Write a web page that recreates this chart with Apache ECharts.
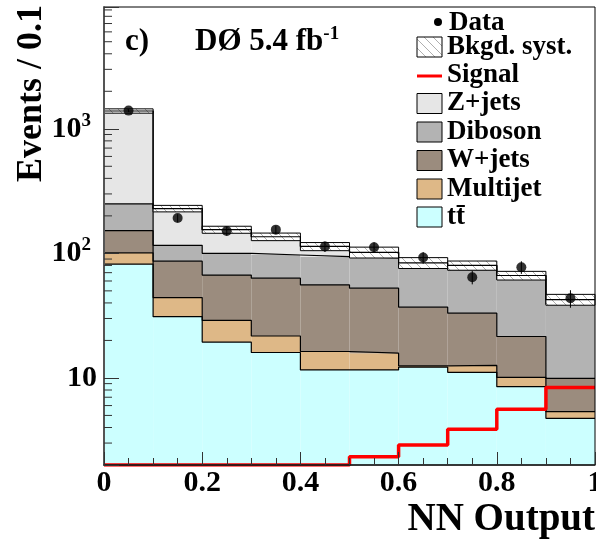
<!DOCTYPE html>
<html>
<head>
<meta charset="utf-8">
<script src="https://cdn.jsdelivr.net/npm/echarts@6/dist/echarts.min.js"></script>
<style>
html, body { margin: 0; padding: 0; background: #fff; }
#chart { width: 596px; height: 541px; }
</style>
</head>
<body>
<div id="chart"></div>
<script>
// NN output bins (left edges and centres)
var binLeft = [0, 0.1, 0.2, 0.3, 0.4, 0.5, 0.6, 0.7, 0.8, 0.9];
var binCenter = [0.05, 0.15, 0.25, 0.35, 0.45, 0.55, 0.65, 0.75, 0.85, 0.95];
// background contributions per bin, stacked bottom to top
var ttbar = [81.9, 31.0, 19.4, 16.0, 11.6, 11.6, 12.2, 11.1, 8.5, 4.74];
var multijet = [19.1, 13.2, 9.6, 5.7, 4.7, 4.2, 0.3, 1.5, 1.6, 0.62];
var wjets = [51, 42.3, 38, 41.5, 39.5, 36.7, 24.5, 20.5, 11.4, 4.54];
var diboson = [98, 29.5, 33, 33.8, 38.2, 39.5, 41, 40.9, 40.5, 29.4];
var zjets = [1140, 113, 55, 39, 19.6, 10, 6, 6, 4.4, 3.3];
// relative background systematic per bin
var systFrac = [0.04, 0.06, 0.065, 0.07, 0.075, 0.1, 0.1, 0.085, 0.08, 0.1];
var signal = [2, 2, 2, 2, 2, 2.33, 2.9, 3.87, 5.61, 8.36];
var dataObs = [1400, 192, 151, 155, 113.6, 112, 92.5, 64.4, 77.4, 43.6];
var dataErr = [37, 14, 12, 12, 11, 11, 10, 8, 9, 7];

var FONT = '"Liberation Serif", "Times New Roman", serif';
var COLORS = { ttbar: '#ccffff', multijet: '#deb887', wjets: '#9b8c7e', diboson: '#b3b3b3', zjets: '#e6e6e6' };

function stepData(vals) {
    var d = binLeft.map(function (x, i) { return [x, vals[i]]; });
    d.push([1.0, vals[vals.length - 1]]);
    return d;
}

// running sums of the stack
var components = [
    { name: 't\u0074\u0304', vals: ttbar, color: COLORS.ttbar },
    { name: 'Multijet', vals: multijet, color: COLORS.multijet },
    { name: 'W+jets', vals: wjets, color: COLORS.wjets },
    { name: 'Diboson', vals: diboson, color: COLORS.diboson },
    { name: 'Z+jets', vals: zjets, color: COLORS.zjets }
];
var running = binLeft.map(function () { return 0; });
components.forEach(function (c) {
    c.base = running.slice();
    running = running.map(function (r, i) { return r + c.vals[i]; });
    c.top = running.slice();
});
var total = running;

// hatch pattern for the syst. band
var hatch = document.createElement('canvas');
hatch.width = 9; hatch.height = 9;
(function () {
    var c = hatch.getContext('2d');
    c.fillStyle = '#fff';
    c.fillRect(0, 0, 9, 9);
    c.strokeStyle = '#9a9a9a';
    c.lineWidth = 0.8;
    c.beginPath();
    c.moveTo(0, 0); c.lineTo(9, 9);
    c.stroke();
})();
var hatchFill = { image: hatch, repeat: 'repeat' };

function fillSeries(c) {
    return {
        name: c.name, type: 'custom', z: 2,
        data: binLeft.map(function (x, i) { return [x, x + 0.1, c.base[i], c.top[i]]; }),
        encode: { x: [0, 1], y: [3] },
        renderItem: function (params, api) {
            var cs = params.coordSys;
            var a = api.coord([api.value(0), api.value(3)]);
            var b = api.value(2) > 0 ? api.coord([api.value(1), api.value(2)]) : [api.coord([api.value(1), api.value(3)])[0], cs.y + cs.height];
            return {
                type: 'rect',
                shape: { x: a[0], y: a[1], width: b[0] - a[0], height: b[1] - a[1] },
                style: { fill: c.color, stroke: null }
            };
        }
    };
}
function outlineSeries(c) {
    return {
        name: c.name + ' outline', type: 'line', step: 'end', symbol: 'none', z: 3,
        data: stepData(c.top), lineStyle: { color: '#000', width: 1.2 }
    };
}

var series = [];
components.forEach(function (c) { series.push(fillSeries(c)); });
components.forEach(function (c) { series.push(outlineSeries(c)); });
series.push({
    name: 'Bkgd. syst.', type: 'custom', z: 7,
    data: binLeft.map(function (x, i) {
        return [x, x + 0.1, total[i] * (1 - systFrac[i]), total[i] * (1 + systFrac[i])];
    }),
    encode: { x: [0, 1], y: [2, 3] },
    renderItem: function (params, api) {
        var a = api.coord([api.value(0), api.value(3)]);
        var b = api.coord([api.value(1), api.value(2)]);
        return {
            type: 'rect',
            shape: { x: a[0], y: a[1], width: b[0] - a[0], height: b[1] - a[1] },
            style: { fill: hatchFill, stroke: '#000', lineWidth: 1 }
        };
    }
});
series.push({
    name: 'Total', type: 'line', step: 'end', symbol: 'none', z: 8,
    data: stepData(total), lineStyle: { color: '#000', width: 1.2 }
});
series.push({
    name: 'Signal', type: 'line', step: 'end', symbol: 'none', z: 8,
    data: stepData(signal), lineStyle: { color: '#ff0000', width: 3.5 }
});
series.push({
    name: 'Data err', type: 'custom', z: 9,
    data: binCenter.map(function (x, i) { return [x, dataObs[i] - dataErr[i], dataObs[i] + dataErr[i]]; }),
    encode: { x: 0, y: [1, 2] },
    renderItem: function (params, api) {
        var a = api.coord([api.value(0), api.value(1)]);
        var b = api.coord([api.value(0), api.value(2)]);
        return { type: 'line', shape: { x1: a[0], y1: a[1], x2: b[0], y2: b[1] }, style: { stroke: '#000', lineWidth: 1 } };
    }
});
series.push({
    name: 'Data', type: 'scatter', z: 9, symbol: 'circle', symbolSize: 10,
    itemStyle: { color: '#000' },
    data: binCenter.map(function (x, i) { return [x, dataObs[i]]; })
});

var chart = echarts.init(document.getElementById('chart'));
chart.setOption({
    animation: false,
    backgroundColor: '#fff',
    grid: {
        left: 104, right: 1, top: 7, bottom: 76, z: 10,
        show: true, borderColor: '#000', borderWidth: 1, backgroundColor: 'transparent',
        containLabel: false, outerBoundsMode: 'none'
    },
    xAxis: {
        type: 'value', min: 0, max: 1, interval: 0.2, z: 10,
        axisLine: { lineStyle: { color: '#222', width: 1.5 } },
        axisTick: { inside: true, length: 13, lineStyle: { color: '#333', width: 1 } },
        minorTick: { show: true, splitNumber: 4, length: 7, lineStyle: { color: '#333', width: 1 } },
        splitLine: { show: false },
        axisLabel: {
            margin: 3, color: '#000', fontFamily: FONT, fontWeight: 'bold', fontSize: 30,
            showMinLabel: true, showMaxLabel: true, hideOverlap: false,
            formatter: function (v) {
                if (Math.abs(v) < 1e-9) return '0';
                if (Math.abs(v - 1) < 1e-9) return '1';
                return v.toFixed(1);
            }
        }
    },
    yAxis: {
        type: 'log', logBase: 10, min: 2, max: 9500, z: 10,
        axisLine: { show: true, lineStyle: { color: '#555', width: 2 } },
        axisTick: { inside: true, length: 15, lineStyle: { color: '#333', width: 1 } },
        splitLine: { show: false },
        axisLabel: {
            margin: 7, color: '#000', fontFamily: FONT, fontWeight: 'bold', fontSize: 30,
            showMinLabel: true, showMaxLabel: true,
            formatter: function (v) {
                var p = Math.log(v) / Math.LN10;
                var r = Math.round(p);
                if (Math.abs(p - r) > 1e-6 || r < 1) return '';
                if (r === 1) return '{b|10}';
                return '{b|10}{s|' + r + '}';
            },
            rich: {
                b: { fontFamily: FONT, fontWeight: 'bold', fontSize: 30, color: '#000' },
                s: { fontFamily: FONT, fontWeight: 'bold', fontSize: 19, color: '#000', padding: [0, 6, 16, 0] }
            }
        }
    },
    series: series
});

// legend, labels and minor log ticks
var g = [];
var tf = 'bold 27px ' + FONT;
var rows = [23, 47, 75, 103.5, 132, 160.5, 189, 217];
var legendItems = [
    { text: 'Data', kind: 'dot' },
    { text: 'Bkgd. syst.', kind: 'hatch' },
    { text: 'Signal', kind: 'line' },
    { text: 'Z+jets', kind: 'box', color: COLORS.zjets },
    { text: 'Diboson', kind: 'box', color: COLORS.diboson },
    { text: 'W+jets', kind: 'box', color: COLORS.wjets },
    { text: 'Multijet', kind: 'box', color: COLORS.multijet },
    { text: 't\u0074\u0304', kind: 'box', color: COLORS.ttbar }
];
legendItems.forEach(function (it, i) {
    var y = rows[i];
    if (it.kind === 'dot') {
        g.push({ type: 'circle', shape: { cx: 438, cy: y - 1, r: 4 }, style: { fill: '#000' }, z: 20 });
    } else if (it.kind === 'line') {
        g.push({ type: 'line', shape: { x1: 417, y1: y + 1, x2: 442, y2: y + 1 }, style: { stroke: '#ff0000', lineWidth: 3 }, z: 20 });
    } else {
        g.push({ type: 'rect', shape: { x: 417, y: y - 10, width: 25, height: 20 },
            style: { fill: it.kind === 'hatch' ? hatchFill : it.color, stroke: '#000', lineWidth: 1 }, z: 20 });
    }
    g.push({ type: 'text', x: it.kind === 'dot' ? 449 : 447, y: y, z: 20,
        style: { text: it.text, font: tf, fill: '#000', align: 'left', verticalAlign: 'middle' } });
});
g.push({ type: 'text', x: 125, y: 42, z: 20,
    style: { text: 'c)', font: 'bold 31px ' + FONT, fill: '#000', verticalAlign: 'middle' } });
g.push({ type: 'text', x: 195, y: 42, z: 20,
    style: {
        text: '{m|D\u00d8 5.4 fb}{s|-1}', verticalAlign: 'middle',
        rich: {
            m: { font: 'bold 31px ' + FONT, fill: '#000' },
            s: { font: 'bold 19px ' + FONT, fill: '#000', padding: [0, 0, 16, 0] }
        }
    } });
g.push({ type: 'text', x: 595, y: 520, z: 20,
    style: { text: 'NN Output', font: 'bold 39px ' + FONT, fill: '#000', align: 'right', verticalAlign: 'middle' } });
g.push({ type: 'text', x: 50, y: 5, z: 20, rotation: Math.PI / 2,
    style: { text: 'Events / 0.1', font: 'bold 36px ' + FONT, fill: '#000', align: 'right', verticalAlign: 'bottom' } });

[1, 10, 100, 1000].forEach(function (d) {
    for (var m = 2; m <= 9; m++) {
        var v = m * d;
        if (v <= 2 || v >= 9500) continue;
        var py = chart.convertToPixel({ yAxisIndex: 0 }, v);
        g.push({ type: 'line', z: 20, shape: { x1: 104, y1: py, x2: 112, y2: py }, style: { stroke: '#333', lineWidth: 1 } });
    }
});
chart.setOption({ graphic: g });
</script>
</body>
</html>
